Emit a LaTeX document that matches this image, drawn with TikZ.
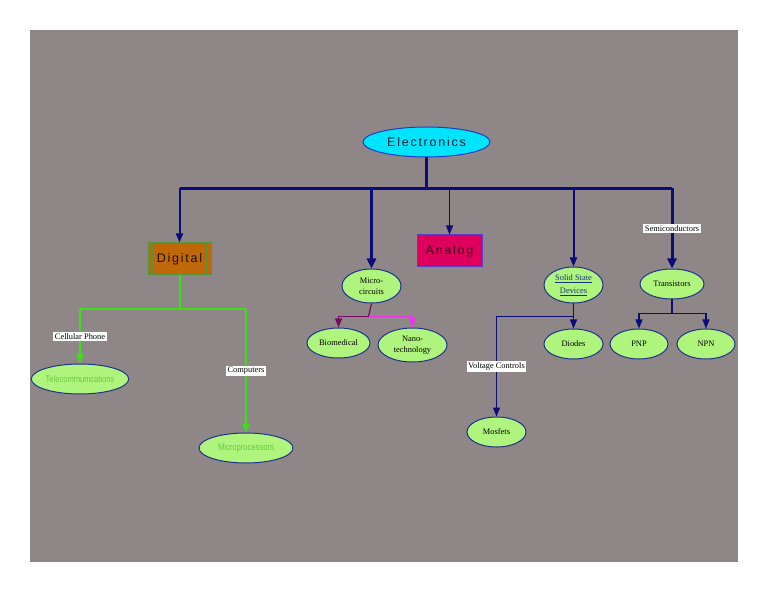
\documentclass[tikz,border=0pt]{standalone}
\usepackage{fontspec}
\setmainfont{Liberation Serif}
\newfontfamily\spacedsans[LetterSpace=14]{Liberation Sans}
\newfontfamily\narrowsans[FakeStretch=0.8]{Liberation Sans}
\usetikzlibrary{positioning,shapes.geometric,arrows.meta,calc}

\definecolor{bggray}{RGB}{143,135,135}
\definecolor{navy}{RGB}{12,12,120}
\definecolor{rimblue}{RGB}{30,50,140}
\definecolor{leafgreen}{RGB}{175,245,125}
\definecolor{leaftext}{RGB}{105,200,65}
\definecolor{elecfill}{RGB}{0,228,255}
\definecolor{elecrim}{RGB}{30,60,200}
\definecolor{digifill}{RGB}{190,104,8}
\definecolor{digirim}{RGB}{85,150,60}
\definecolor{anafill}{RGB}{222,0,92}
\definecolor{anarim}{RGB}{90,60,200}
\definecolor{analine}{RGB}{125,35,185}
\definecolor{stemgreen}{RGB}{60,225,20}
\definecolor{biopurple}{RGB}{120,10,100}
\definecolor{nanopink}{RGB}{240,50,240}
\definecolor{linkblue}{RGB}{20,50,125}

\begin{document}
\begin{tikzpicture}[on grid,
    >={Triangle[length=9pt,width=7pt]},
    leaf/.style={ellipse,draw=rimblue,fill=leafgreen,line width=1pt,inner sep=0pt,
        align=center,minimum width=59pt,minimum height=30pt,
        font=\fontsize{8.4}{11}\selectfont},
    greenleaf/.style={leaf,minimum width=95pt,text=leaftext,
        font=\narrowsans\fontsize{9.5}{11}\selectfont},
    bar/.style={draw=#1,line width=1pt,inner sep=0pt,
        path picture={\draw[#1,line width=1.2pt]
            ([xshift=4.5pt]path picture bounding box.north west) -- ([xshift=4.5pt]path picture bounding box.south west)
            ([xshift=-4.5pt]path picture bounding box.north east) -- ([xshift=-4.5pt]path picture bounding box.south east);}},
    lab/.style={fill=white,inner sep=1.5pt,text=black,font=\fontsize{8.4}{9}\selectfont},
    link/.style={->,draw=navy,line width=1.2pt},
    greenlink/.style={color=stemgreen,line width=2pt},
    heavy/.style={->,draw=navy,line width=#1,>={Triangle[length=10pt,width=9pt]}}]

    \useasboundingbox (0,0) rectangle (768pt,-593pt);
    \fill[bggray] (30pt,-30pt) rectangle (738pt,-562pt);

    \draw (426.5pt,-142pt)
        node[ellipse,draw=elecrim,fill=elecfill,line width=1pt,minimum width=127pt,minimum height=30pt,
            text={rgb,255:red,0;green,30;blue,45},font=\spacedsans\fontsize{12.5}{14}\selectfont] (elec) {Electronics}

        node[bar=digirim,fill=digifill,minimum width=63pt,minimum height=32pt,below left=117pt and 247pt of elec,
            text={rgb,255:red,35;green,15;blue,5},font=\spacedsans\fontsize{12.5}{14}\selectfont] (digital) {Digital}
        node[greenleaf,below left=120pt and 99.5pt of digital] (telecom) {Telecommunications}
        node[greenleaf,minimum width=94pt,below right=189pt and 66.5pt of digital] (microproc) {Microprocessors}

        node[bar=analine,draw=anarim,fill=anafill,minimum width=65pt,minimum height=32pt,below right=109pt and 23pt of elec,
            text={rgb,255:red,55;green,0;blue,25},font=\spacedsans\fontsize{12.5}{14}\selectfont] (analog) {Analog}

        node[leaf,minimum height=34pt,below left=144pt and 55pt of elec] (micro) {Micro-\\circuits}
        node[leaf,minimum width=63pt,below left=57pt and 33pt of micro] (bio) {Biomedical}
        node[leaf,minimum width=69pt,minimum height=34pt,below right=59pt and 41pt of micro] (nano) {Nano-\\technology}

        node[leaf,minimum height=36pt,text=linkblue,font=\fontsize{8.4}{13}\selectfont,
            below right=143pt and 147pt of elec] (ssd) {\underline{Solid State}\\\underline{Devices}}
        node[leaf,below=59pt of ssd] (diodes) {Diodes}
        node[leaf,below left=147pt and 77pt of ssd] (mosfets) {Mosfets}

        node[leaf,minimum width=64pt,below right=142pt and 245.5pt of elec] (trans) {Transistors}
        node[leaf,minimum width=58pt,below left=60pt and 33pt of trans] (pnp) {PNP}
        node[leaf,minimum width=58pt,below right=60pt and 34pt of trans] (npn) {NPN}
    ;

    % top level tree
    \coordinate (hub) at ($(elec.south)+(0,-31pt)$);
    \draw[navy,line width=3pt] (elec.south) -- (hub);
    \draw[navy,line width=2.5pt] (digital |- hub) -- (trans |- hub);
    \draw[link,line width=2pt] (digital |- hub) -- (digital);
    \draw[heavy=3pt] (micro |- hub) -- (micro);
    \draw[link] (analog |- hub) -- (analog);
    \draw[link,line width=2pt] (ssd |- hub) -- (ssd);
    \draw[heavy=3pt] (trans |- hub) -- node[lab] {Semiconductors} (trans);

    % digital branch
    \coordinate (dfork) at ($(digital.south)+(0,-34pt)$);
    \draw[greenlink] (digital.south) -- (dfork) -- (dfork -| telecom) (dfork) -- (dfork -| microproc);
    \draw[greenlink,->] (dfork -| telecom) -- node[lab] {Cellular Phone} (telecom);
    \draw[greenlink,->] (dfork -| microproc) -- node[lab] {Computers} (microproc);

    % micro-circuits branch
    \coordinate (mfork) at ($(micro.south)+(-3pt,-13pt)$);
    \draw[biopurple,line width=1.2pt] (micro.south) -- (mfork);
    \draw[->,biopurple,line width=1.2pt] (mfork) -| (bio);
    \draw[->,nanopink,line width=1.2pt] (mfork) -| (nano);

    % solid state branch
    \coordinate (sfork) at ($(ssd.south)+(0,-13pt)$);
    \draw[navy,line width=1.2pt] (ssd.south) -- (sfork);
    \draw[link] (sfork) -- (diodes);
    \draw[link] (sfork) -| node[lab,pos=0.75] {Voltage Controls} (mosfets);

    % transistor branch
    \coordinate (tfork) at ($(trans.south)+(0,-14pt)$);
    \draw[navy,line width=1.2pt] (trans.south) -- (tfork);
    \draw[link] (tfork) -| (pnp);
    \draw[link] (tfork) -| (npn);
\end{tikzpicture}
\end{document}
